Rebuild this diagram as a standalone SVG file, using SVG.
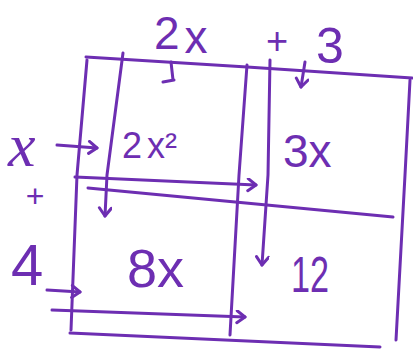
<svg xmlns="http://www.w3.org/2000/svg" width="413" height="349" viewBox="0 0 413 349">
<style>
.ln{fill:none;stroke:#6d2eb2;stroke-width:3;stroke-linecap:round;stroke-linejoin:round}
.tx{fill:#6d2eb2;font-family:"Liberation Sans",Arial,sans-serif}
</style>
<defs>
<marker id="ah" markerUnits="userSpaceOnUse" markerWidth="16" markerHeight="16" refX="10" refY="7" orient="auto">
<path d="M2,1 L10,7 L2,13" fill="none" stroke="#6d2eb2" stroke-width="3" stroke-linecap="round" stroke-linejoin="round"/>
</marker>
</defs>
<rect width="413" height="349" fill="#ffffff"/>
<g id="grid">
<polyline class="ln" points="86,57 247,67 412,78"/>
<polyline class="ln" points="87,60 77,175 71,330"/>
<polyline class="ln" points="410,80 405,175 396,340"/>
<polyline class="ln" points="70,333 380,347"/>
<polyline class="ln" points="88,188 393,217"/>
<polyline class="ln" points="247,65 239,175 230,335"/>
</g>
<g id="connectors">
<polyline class="ln" points="123,53 107,175 105,216" marker-end="url(#ah)"/>
<polyline class="ln" points="270,60 268,175 262,265" marker-end="url(#ah)"/>
<polyline class="ln" points="75,177 256,185" marker-end="url(#ah)"/>
<polyline class="ln" points="52,310 245,317" marker-end="url(#ah)"/>
<polyline class="ln" points="47,290 80,292" marker-end="url(#ah)"/>
<polyline class="ln" points="57,145 97,148" marker-end="url(#ah)"/>
<path class="ln" d="M171,62 L173,80 M163,82 L174,80"/>
<polyline class="ln" points="305,62 301,87" marker-end="url(#ah)"/>
</g>
<g id="top-label">
<text class="tx" x="154" y="49" font-size="46">2<tspan dx="5" dy="4">x</tspan></text>
<text class="tx" x="277" y="54" font-size="38" text-anchor="middle">+</text>
<text class="tx" x="316" y="63" font-size="50">3</text>
</g>
<g id="side-label">
<text class="tx" x="8" y="166" font-size="62" font-style="italic" style="font-family:'Liberation Serif',serif">x</text>
<text class="tx" x="35" y="207" font-size="32" text-anchor="middle">+</text>
<text class="tx" x="11" y="285" font-size="58">4</text>
</g>
<g id="cell-2x2">
<text class="tx" x="122" y="158" font-size="36">2<tspan dx="5">x²</tspan></text>
</g>
<g id="cell-3x">
<text class="tx" x="283" y="167" font-size="46">3x</text>
</g>
<g id="cell-8x">
<text class="tx" x="127" y="287" font-size="54">8x</text>
</g>
<g id="cell-12">
<text class="tx" x="291" y="292" font-size="50" textLength="38" lengthAdjust="spacingAndGlyphs">12</text>
</g>
</svg>
